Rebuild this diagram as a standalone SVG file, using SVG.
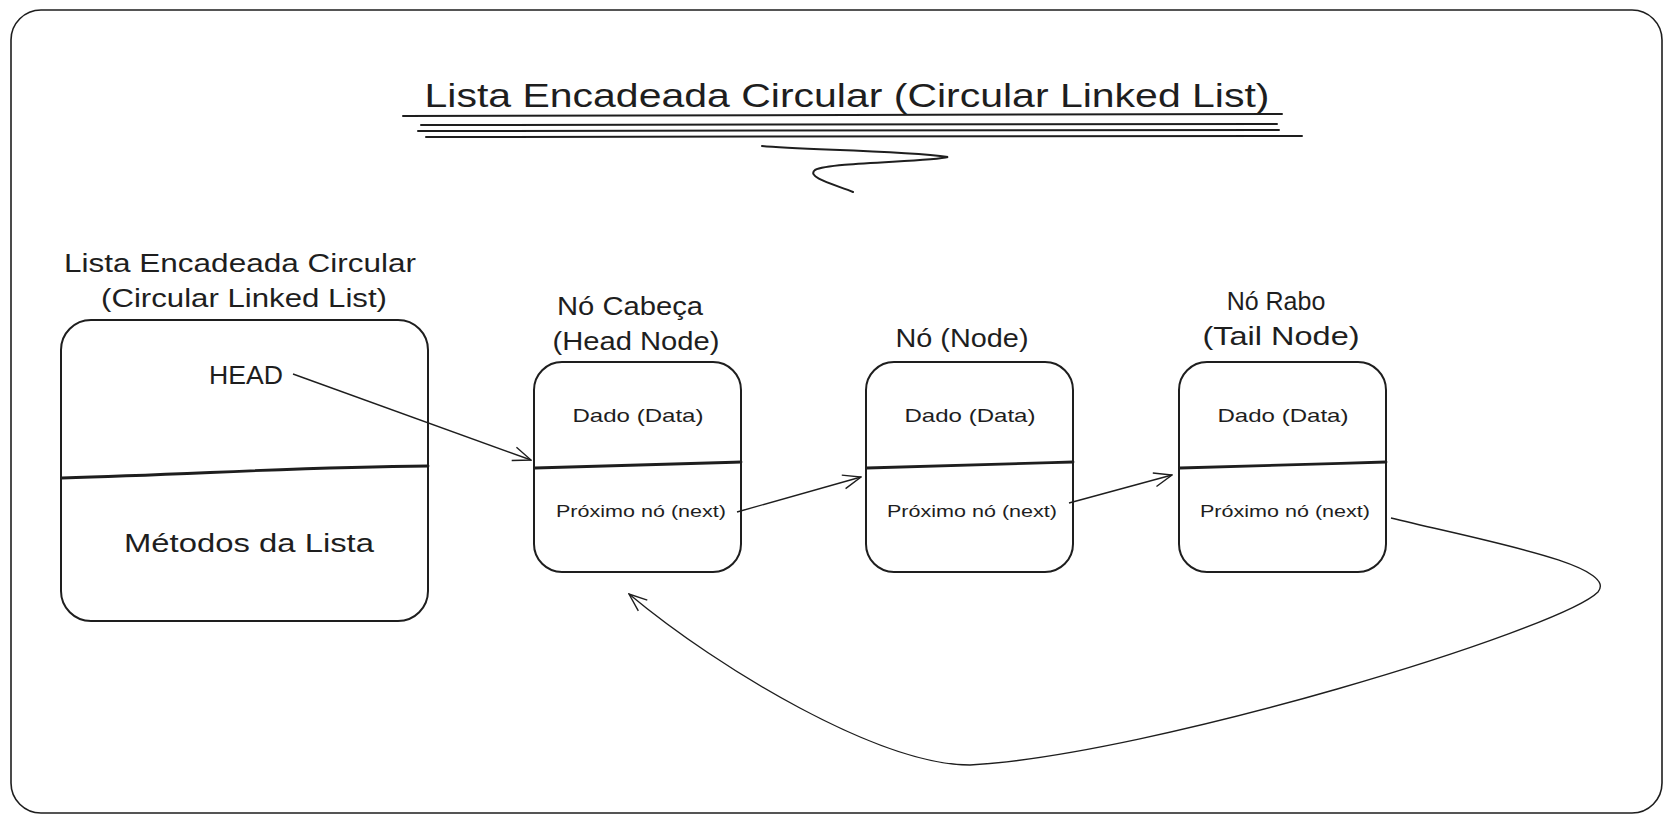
<svg xmlns="http://www.w3.org/2000/svg" width="1671" height="823" viewBox="0 0 1671 823">
<style>
text{font-family:"Liberation Sans","DejaVu Sans",sans-serif;fill:#1e1e1e;text-anchor:middle}
.box{fill:#fff;stroke:#1e1e1e;stroke-width:2}
.div{stroke:#1e1e1e;stroke-width:2.8;fill:none;stroke-linecap:round}
.ul{stroke:#1e1e1e;stroke-width:2;fill:none;stroke-linecap:round}
.con{stroke:#1e1e1e;stroke-width:1.4;fill:none;marker-end:url(#arr)}
.t1{font-size:33px}
.t2{font-size:25px}
.t3{font-size:19px}
.t4{font-size:17px}
</style>
<defs>
<marker id="arr" viewBox="0 0 20 20" refX="19" refY="10" markerWidth="20" markerHeight="20" markerUnits="userSpaceOnUse" orient="auto">
<path d="M1,3 L19,10 L1,17" fill="none" stroke="#1e1e1e" stroke-width="1.4"/>
</marker>
</defs>
<rect width="1671" height="823" fill="#fff"/>
<rect id="frame" x="11" y="10" width="1651" height="803" rx="30" fill="none" stroke="#1e1e1e" stroke-width="1.6"/>
<g id="title">
<text class="t1" x="847" y="107" textLength="845" lengthAdjust="spacingAndGlyphs">Lista Encadeada Circular (Circular Linked List)</text>
<path class="ul" d="M403,116 L1282,114"/>
<path class="ul" d="M421,125 L1277,124"/>
<path class="ul" d="M418,131 L1279,130"/>
<path class="ul" d="M426,137 L1302,136"/>
<path class="ul" stroke-width="1.4" d="M762,146 C800,150 900,150 948,157 C930,162 830,162 815,170 C805,178 840,186 853,192"/>
</g>
<g id="list">
<text class="t2" x="240" y="272" textLength="352" lengthAdjust="spacingAndGlyphs">Lista Encadeada Circular</text>
<text class="t2" x="244" y="307" textLength="286" lengthAdjust="spacingAndGlyphs">(Circular Linked List)</text>
<rect class="box" x="61" y="320" width="367" height="301" rx="30"/>
<path class="div" d="M62,478 C200,474 300,467 428,466"/>
<text class="t2" x="246" y="384" textLength="74" lengthAdjust="spacingAndGlyphs">HEAD</text>
<text class="t2" x="249" y="552" textLength="250" lengthAdjust="spacingAndGlyphs">Métodos da Lista</text>
</g>
<g id="head-node">
<text class="t2" x="630" y="315" textLength="146" lengthAdjust="spacingAndGlyphs">Nó Cabeça</text>
<text class="t2" x="636" y="350" textLength="167" lengthAdjust="spacingAndGlyphs">(Head Node)</text>
<rect class="box" x="534" y="362" width="207" height="210" rx="28"/>
<path class="div" d="M535,468 C620,466 680,464 741,462"/>
<text class="t3" x="638" y="422" textLength="131" lengthAdjust="spacingAndGlyphs">Dado (Data)</text>
<text class="t4" x="641" y="517" textLength="170" lengthAdjust="spacingAndGlyphs">Próximo nó (next)</text>
</g>
<g id="node">
<text class="t2" x="962" y="347" textLength="133" lengthAdjust="spacingAndGlyphs">Nó (Node)</text>
<rect class="box" x="866" y="362" width="207" height="210" rx="28"/>
<path class="div" d="M867,468 C950,466 1010,464 1073,462"/>
<text class="t3" x="970" y="422" textLength="131" lengthAdjust="spacingAndGlyphs">Dado (Data)</text>
<text class="t4" x="972" y="517" textLength="170" lengthAdjust="spacingAndGlyphs">Próximo nó (next)</text>
</g>
<g id="tail-node">
<text class="t2" x="1276" y="310">Nó Rabo</text>
<text class="t2" x="1281" y="345" textLength="157" lengthAdjust="spacingAndGlyphs">(Tail Node)</text>
<rect class="box" x="1179" y="362" width="207" height="210" rx="28"/>
<path class="div" d="M1180,468 C1260,466 1320,464 1386,462"/>
<text class="t3" x="1283" y="422" textLength="131" lengthAdjust="spacingAndGlyphs">Dado (Data)</text>
<text class="t4" x="1285" y="517" textLength="170" lengthAdjust="spacingAndGlyphs">Próximo nó (next)</text>
</g>
<g id="connectors">
<path class="con" d="M293,374 L531,460"/>
<path class="con" d="M737,512 L861,477"/>
<path class="con" d="M1069,503 L1172,475"/>
<path class="con" d="M1391,518 C1480,540 1620,565 1598,592 C1560,630 1150,755 970,765 C880,765 720,670 629,594"/>
</g>
</svg>
